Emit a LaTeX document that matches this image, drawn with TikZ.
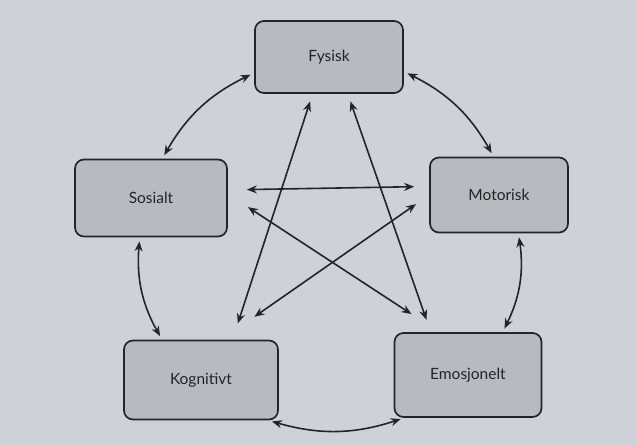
\documentclass[tikz,border=0pt]{standalone}
\usepackage{fontspec}
\setmainfont{Lato}
\usetikzlibrary{arrows.meta}
\definecolor{papir}{RGB}{206,210,216}
\definecolor{boksgraa}{RGB}{184,186,191}
\definecolor{strek}{RGB}{35,36,40}
\begin{document}
\begin{tikzpicture}[x=1pt,y=-1pt]
    \tikzstyle{boks}=[draw=strek, line width=1.7pt, fill=boksgraa, rounded corners=9pt, minimum width=148pt, minimum height=76pt, font=\fontsize{15.5}{18}\selectfont, text=strek]
    \tikzstyle{pil}=[strek, line width=1.6pt, {Stealth[length=10pt,width=8pt]}-{Stealth[length=10pt,width=8pt]}]
    \fill [papir] (0,0) rectangle (637,446);
    \useasboundingbox (0,0) rectangle (637,446);
    \node [boks, minimum height=72pt] (fys) at (329,57) {Fysisk};
    \node [boks, minimum width=152pt, minimum height=77pt] (sos) at (151,198) {Sosialt};
    \node [boks, minimum width=138pt, minimum height=75pt] (mot) at (499,195) {Motorisk};
    \node [boks, minimum width=154pt, minimum height=79pt] (kog) at (201,380) {Kognitivt};
    \node [boks, minimum width=147pt, minimum height=84pt] (emo) at (468,375) {Emosjonelt};
    % rundt
    \draw [pil, shorten <=4pt, shorten >=4pt] (fys.349) to [bend left=17] (mot.98);
    \draw [pil, shorten <=4pt, shorten >=4pt] (mot.297) to [bend left=17] (emo.51);
    \draw [pil, shorten <=4pt, shorten >=4pt] (emo.214) to [bend left=17] (kog.329);
    \draw [pil, shorten <=4pt, shorten >=4pt] (kog.134) to [bend left=17] (sos.254);
    \draw [pil, shorten <=4pt, shorten >=4pt] (sos.74) to [bend left=17] (fys.192);
    % stjerne
    \draw [pil, shorten <=19pt, shorten >=15pt] (sos.6) -- (mot.173);
    \draw [pil, shorten <=24pt, shorten >=33pt] (sos.3) -- (emo.124);
    \draw [pil, shorten <=16pt, shorten >=40pt] (mot.180) -- (kog.63);
    \draw [pil, shorten <=8pt, shorten >=17pt] (fys.246) -- (kog.52);
    \draw [pil, shorten <=8pt, shorten >=13pt] (fys.297) -- (emo.131);
\end{tikzpicture}
\end{document}
